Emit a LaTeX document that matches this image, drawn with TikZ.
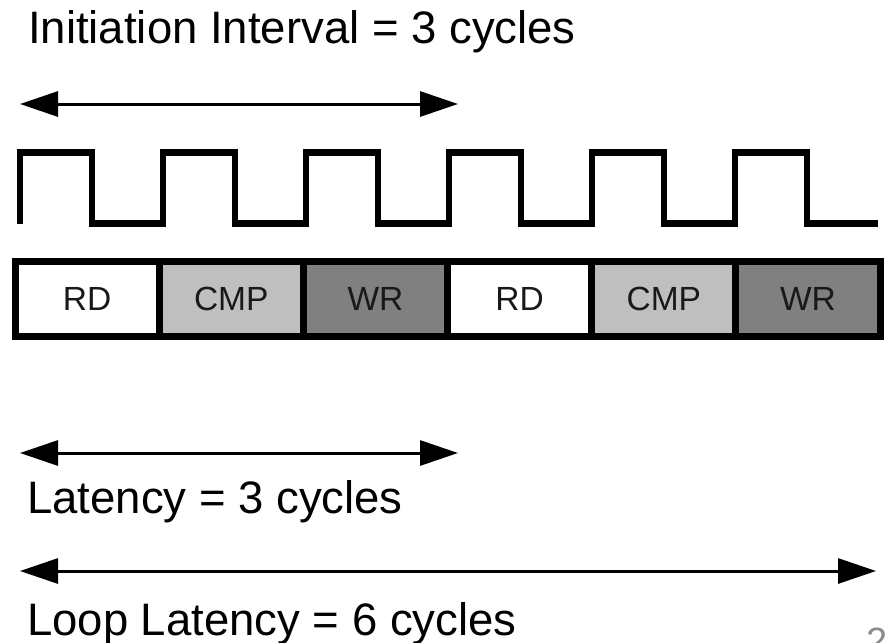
\documentclass[tikz,border=0pt]{standalone}
\usepackage{fontspec}
\setmainfont{Liberation Sans}
\usetikzlibrary{arrows.meta,positioning}
\definecolor{cmpgray}{gray}{0.75}
\definecolor{wrgray}{gray}{0.5}
\definecolor{inkgray}{gray}{0.1}
\definecolor{pagegray}{gray}{0.55}

\begin{document}
\begin{tikzpicture}[x=1pt,y=-1pt,
    cell/.style={draw,line width=7pt,minimum width=144.17pt,minimum height=75pt,
                 inner sep=0pt,outer sep=0pt,text=inkgray,font=\fontsize{33.5}{40}\selectfont},
    span/.style={{Triangle[length=38pt,width=25pt]}-{Triangle[length=38pt,width=25pt]},line width=3pt},
    lbl/.style={anchor=base west,inner sep=0pt,font=\fontsize{45.5}{54}\selectfont}]
\useasboundingbox (0,0) rectangle (887,643);

% initiation interval
\node[lbl] (ii) at (28,43) {Initiation Interval = 3 cycles};
\coordinate (iiL) at (20,104);
\coordinate (iiR) at (458,104);
\draw[span] (iiL) -- (iiR);

% clock
\draw[line width=6.5pt] (20,223.5) foreach \k in {0,...,5} {-- ++(0,-71) -- ++(72,0) -- ++(0,71) -- ++(71,0)};

% stages
\node[cell] (rd1) at (87.1,299) {RD};
\node[cell,fill=cmpgray,right=0pt of rd1] (cmp1) {CMP};
\node[cell,fill=wrgray,right=0pt of cmp1] (wr1) {WR};
\node[cell,right=0pt of wr1] (rd2) {RD};
\node[cell,fill=cmpgray,right=0pt of rd2] (cmp2) {CMP};
\node[cell,fill=wrgray,right=0pt of cmp2] (wr2) {WR};

% latency
\coordinate (latL) at (20,453);
\coordinate (latR) at (458,453);
\draw[span] (latL) -- (latR);
\node[lbl] (lat) at (27,513) {Latency = 3 cycles};

% loop latency
\coordinate (loopL) at (20,571);
\coordinate (loopR) at (876,571);
\draw[span] (loopL) -- (loopR);
\node[lbl] (loop) at (27,635) {Loop Latency = 6 cycles};

\node[anchor=north west,inner sep=0pt,text=pagegray,font=\fontsize{38}{44}\selectfont] (pg) at (866,628) {2};
\end{tikzpicture}
\end{document}
